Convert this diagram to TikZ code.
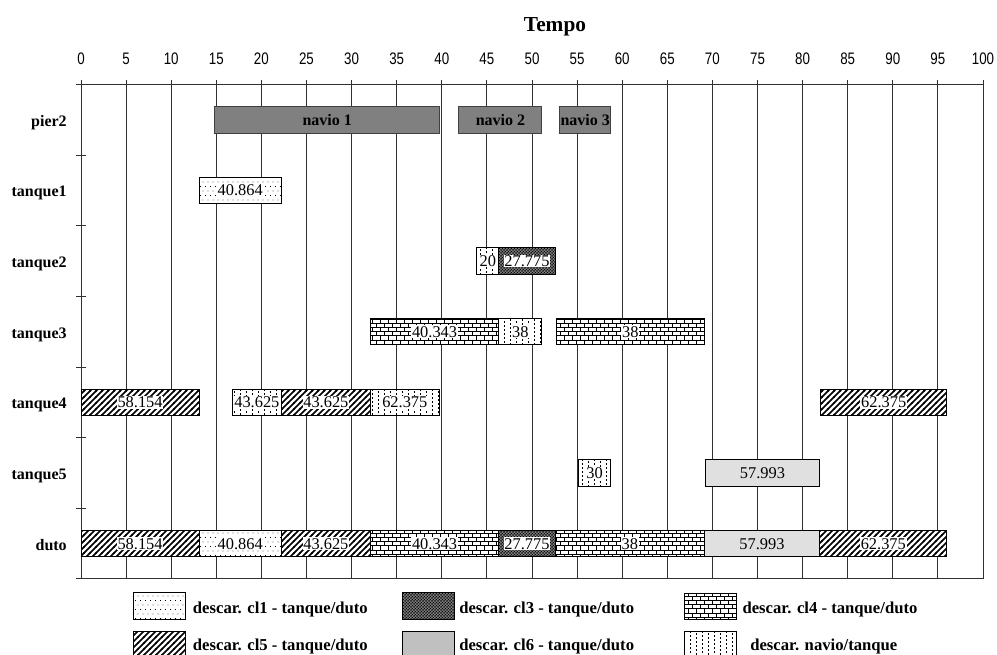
\documentclass[tikz,border=0pt]{standalone}
\usepackage{fontspec}
\setmainfont{Liberation Serif}
\newfontfamily\tickfont[FakeStretch=0.8]{Liberation Sans}
\usetikzlibrary{patterns}

% sparse dots (cl1)
\pgfdeclarepatternformonly{pcla}{\pgfqpoint{-0.1pt}{-0.1pt}}{\pgfqpoint{3.85pt}{6.85pt}}{\pgfqpoint{3.75pt}{6.75pt}}{%
  \pgfpathrectangle{\pgfqpoint{0pt}{0pt}}{\pgfqpoint{0.7pt}{0.7pt}}%
  \pgfpathrectangle{\pgfqpoint{1.875pt}{3.375pt}}{\pgfqpoint{0.7pt}{0.7pt}}%
  \pgfusepath{fill}}
% dense dots (cl3): dark with small white holes
\pgfdeclarepatternformonly{pclc}{\pgfqpoint{-0.8pt}{-0.8pt}}{\pgfqpoint{3.05pt}{3.05pt}}{\pgfqpoint{2.25pt}{2.25pt}}{%
  \pgfpathcircle{\pgfqpoint{0pt}{0pt}}{0.78pt}%
  \pgfpathcircle{\pgfqpoint{1.125pt}{1.125pt}}{0.78pt}%
  \pgfusepath{fill}}
% bricks (cl4)
\pgfdeclarepatternformonly{pcld}{\pgfqpoint{-0.3pt}{-0.3pt}}{\pgfqpoint{6.3pt}{6.6pt}}{\pgfqpoint{6pt}{6.3pt}}{%
  \pgfsetlinewidth{0.55pt}%
  \pgfpathmoveto{\pgfqpoint{-0.3pt}{0pt}}\pgfpathlineto{\pgfqpoint{6.3pt}{0pt}}%
  \pgfpathmoveto{\pgfqpoint{-0.3pt}{3.15pt}}\pgfpathlineto{\pgfqpoint{6.3pt}{3.15pt}}%
  \pgfpathmoveto{\pgfqpoint{0pt}{0pt}}\pgfpathlineto{\pgfqpoint{0pt}{3.15pt}}%
  \pgfpathmoveto{\pgfqpoint{3pt}{3.15pt}}\pgfpathlineto{\pgfqpoint{3pt}{6.3pt}}%
  \pgfusepath{stroke}}
% thick north east lines (cl5)
\pgfdeclarepatternformonly{pcle}{\pgfqpoint{-1pt}{-1pt}}{\pgfqpoint{5.5pt}{5.5pt}}{\pgfqpoint{4.5pt}{4.5pt}}{%
  \pgfsetlinewidth{1.1pt}%
  \pgfpathmoveto{\pgfqpoint{-0.6pt}{-0.6pt}}\pgfpathlineto{\pgfqpoint{5.1pt}{5.1pt}}%
  \pgfusepath{stroke}}
% vertical dashes (navio/tanque)
\pgfdeclarepatternformonly{pcnt}{\pgfqpoint{-0.1pt}{-0.1pt}}{\pgfqpoint{9.1pt}{3.1pt}}{\pgfqpoint{9pt}{3pt}}{%
  \pgfsetlinewidth{0.6pt}%
  \pgfpathmoveto{\pgfqpoint{0.4pt}{0pt}}\pgfpathlineto{\pgfqpoint{0.4pt}{1.5pt}}%
  \pgfpathmoveto{\pgfqpoint{4.9pt}{1.5pt}}\pgfpathlineto{\pgfqpoint{4.9pt}{3pt}}%
  \pgfusepath{stroke}}

\definecolor{piergray}{HTML}{808080}
\definecolor{chgray}{HTML}{E0E0E0}
\definecolor{legray}{HTML}{C0C0C0}
\definecolor{gridc}{HTML}{303030}

\tikzset{
  gridl/.style={draw=gridc, line width=0.75pt},
  gbar/.style={draw=black, line width=0.75pt, minimum height=19.9pt, inner sep=0pt, outer sep=0pt, rectangle},
  cla/.style={preaction={fill=white}, pattern=pcla},
  clc/.style={preaction={fill=white}, pattern=pclc},
  cld/.style={preaction={fill=white}, pattern=pcld},
  cle/.style={preaction={fill=white}, pattern=pcle},
  cnt/.style={preaction={fill=white}, pattern=pcnt},
  clg/.style={fill=chgray},
  pier/.style={fill=piergray, draw=black!75},
  glbl/.style={font=\fontsize{12.3}{12.3}\selectfont, fill=white, inner sep=0.6pt},
  graylbl/.style={fill=none},
  pierlbl/.style={fill=none, font=\fontsize{12}{12}\selectfont\bfseries},
  ticklbl/.style={font=\tickfont\fontsize{12.5}{12.5}\selectfont, inner sep=0pt},
  rowlbl/.style={font=\fontsize{12}{12}\selectfont\bfseries, inner sep=0pt, anchor=base east},
  lgbox/.style={draw=black, line width=0.75pt, minimum width=39pt, minimum height=20pt, inner sep=0pt, rectangle},
  lgtxt/.style={font=\fontsize{12.5}{12.5}\selectfont\bfseries, inner sep=0pt, anchor=base west},
}

\newcommand\gbar[7][]{%
  \pgfmathsetmacro\gx{81+9.02*#4}%
  \pgfmathsetmacro\gw{9.02*(#5-#4)*0.75}%
  \node[gbar,#6,minimum width=\gw pt,anchor=west] (#2) at (\gx,#3) {};
  \node[glbl,#1] (#2t) at (#2.center) {#7};
}

\begin{document}
\begin{tikzpicture}[x=0.75pt,y=-0.75pt]
\useasboundingbox (0,0) rectangle (997,655);
\clip (0,0) rectangle (997,655);

% title
\node[font=\fontsize{16}{16}\selectfont\bfseries, inner sep=0pt, anchor=base] (title) at (555,31.5) {Tempo};

% grid and ticks
\foreach \i in {0,...,20}{
  \pgfmathsetmacro\gx{81+45.1*\i}
  \draw[gridl] (\gx,80) -- (\gx,579);
  \pgfmathtruncatemacro\lab{5*\i}
  \node[ticklbl] (tk\i) at (\gx,59) {\lab};
}
\draw[gridl] (76,84.5) -- (984,84.5);
\draw[gridl] (76,579) -- (984,579);
\foreach \j in {1,...,6}{
  \pgfmathsetmacro\gy{84.5+70.64*\j}
  \draw[gridl] (76,\gy) -- (86,\gy);
}

% row labels
\node[rowlbl] (r0) at (67,126.3) {pier2};
\node[rowlbl] (r1) at (67,196.9) {tanque1};
\node[rowlbl] (r2) at (67,267.6) {tanque2};
\node[rowlbl] (r3) at (67,338.2) {tanque3};
\node[rowlbl] (r4) at (67,408.9) {tanque4};
\node[rowlbl] (r5) at (67,479.5) {tanque5};
\node[rowlbl] (r6) at (67,550.2) {duto};

% pier2
\gbar[pierlbl]{n1}{119.8}{14.8}{39.8}{pier}{navio 1}
\gbar[pierlbl]{n2}{119.8}{41.9}{51.1}{pier}{navio 2}
\gbar[pierlbl]{n3}{119.8}{53.1}{58.7}{pier}{navio 3}
% tanque1
\gbar{t1a}{190.4}{13.1}{22.2}{cla}{40.864}
% tanque2
\gbar{t2a}{261.1}{43.9}{46.3}{cnt}{20}
\gbar{t2b}{261.1}{46.3}{52.6}{clc}{27.775}
% tanque3
\gbar{t3a}{331.7}{32.1}{46.3}{cld}{40.343}
\gbar{t3b}{331.7}{46.3}{51.1}{cnt}{38}
\gbar{t3c}{331.7}{52.7}{69.1}{cld}{38}
% tanque4
\gbar{t4a}{402.4}{0}{13.1}{cle}{58.154}
\gbar{t4b}{402.4}{16.8}{22.2}{cnt}{43.625}
\gbar{t4c}{402.4}{22.2}{32.1}{cle}{43.625}
\gbar{t4d}{402.4}{32.1}{39.7}{cnt}{62.375}
\gbar{t4e}{402.4}{82.0}{96.0}{cle}{62.375}
% tanque5
\gbar{t5a}{473.0}{55.2}{58.7}{cnt}{30}
\gbar[graylbl]{t5b}{473.0}{69.2}{81.9}{clg}{57.993}
% duto
\gbar{d1}{543.7}{0}{13.1}{cle}{58.154}
\gbar{d2}{543.7}{13.1}{22.2}{cla}{40.864}
\gbar{d3}{543.7}{22.2}{32.1}{cle}{43.625}
\gbar{d4}{543.7}{32.1}{46.3}{cld}{40.343}
\gbar{d5}{543.7}{46.3}{52.6}{clc}{27.775}
\gbar{d6}{543.7}{52.6}{69.1}{cld}{38}
\gbar[graylbl]{d7}{543.7}{69.1}{81.9}{clg}{57.993}
\gbar{d8}{543.7}{81.9}{96.0}{cle}{62.375}

% legend
\node[lgbox,cla] (lg1) at (159.5,606.3) {};
\node[lgtxt] (lt1) at (192.7,613.5) {descar. cl1 - tanque/duto};
\node[lgbox,clc] (lg2) at (428.3,606.3) {};
\node[lgtxt] (lt2) at (459,613.5) {descar. cl3 - tanque/duto};
\node[lgbox,cld] (lg3) at (710.3,606.5) {};
\node[lgtxt] (lt3) at (742.3,613.5) {descar. cl4 - tanque/duto};
\node[lgbox,cle] (lg4) at (159.5,645) {};
\node[lgtxt] (lt4) at (192.7,650.5) {descar. cl5 - tanque/duto};
\node[lgbox,fill=legray] (lg5) at (428,645) {};
\node[lgtxt] (lt5) at (459,650.5) {descar. cl6 - tanque/duto};
\node[lgbox,cnt] (lg6) at (710.3,645) {};
\node[lgtxt] (lt6) at (750,650.5) {descar. navio/tanque};
\end{tikzpicture}
\end{document}
